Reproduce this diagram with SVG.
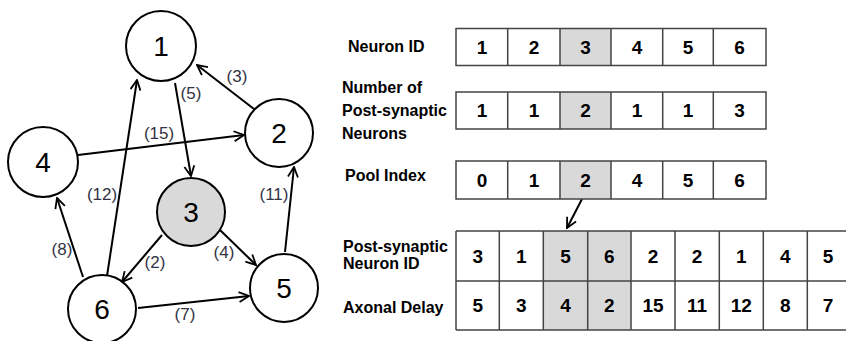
<svg xmlns="http://www.w3.org/2000/svg" width="846" height="341" viewBox="0 0 846 341">
<defs>
<marker id="arr" viewBox="0 0 12 12" refX="11" refY="6" markerWidth="12" markerHeight="12" markerUnits="userSpaceOnUse" orient="auto">
<path d="M1,1 L11,6 L1,11" fill="none" stroke="#000" stroke-width="1.8"/>
</marker>
<style>
.node{fill:#fff;stroke:#000;stroke-width:2}
.shade{fill:#d9d9d9}
.nl{font-family:"Liberation Sans",Arial,sans-serif;font-size:28px;text-anchor:middle;fill:#000}
.edge{stroke:#000;stroke-width:2;fill:none;marker-end:url(#arr)}
.el{font-family:"Liberation Sans",Arial,sans-serif;font-size:17px;fill:#333344;text-anchor:middle}
.lbl{font-family:"Liberation Sans",Arial,sans-serif;font-size:16px;font-weight:bold;fill:#000}
.num{font-family:"Liberation Sans",Arial,sans-serif;font-size:19px;font-weight:bold;fill:#000;text-anchor:middle}
.grid{stroke:#444;stroke-width:1.5;fill:none}
</style>
</defs>
<rect width="846" height="341" fill="#fff"/>

<g id="connectors">
<line class="edge" x1="254" y1="109" x2="197" y2="65"/>
<line class="edge" x1="175" y1="83" x2="191" y2="176"/>
<line class="edge" x1="78" y1="155" x2="244" y2="135"/>
<line class="edge" x1="107" y1="276" x2="137" y2="80"/>
<line class="edge" x1="83" y1="277" x2="57" y2="198"/>
<line class="edge" x1="162" y1="235" x2="122" y2="282"/>
<line class="edge" x1="220" y1="230" x2="256" y2="265"/>
<line class="edge" x1="285" y1="252" x2="294" y2="167"/>
<line class="edge" x1="138" y1="308" x2="249" y2="296"/>
<text class="el" x="237" y="82">(3)</text>
<text class="el" x="191" y="99">(5)</text>
<text class="el" x="159" y="139">(15)</text>
<text class="el" x="102" y="200">(12)</text>
<text class="el" x="62" y="255">(8)</text>
<text class="el" x="155" y="268">(2)</text>
<text class="el" x="224" y="258">(4)</text>
<text class="el" x="274" y="200">(11)</text>
<text class="el" x="185" y="320">(7)</text>
<line class="edge" x1="582" y1="199" x2="567" y2="228"/>
</g>

<g id="n1"><circle class="node" cx="161" cy="46" r="35"/><text class="nl" x="161" y="56">1</text></g>
<g id="n2"><circle class="node" cx="279" cy="133" r="34"/><text class="nl" x="279" y="143">2</text></g>
<g id="n3"><circle cx="191" cy="212" r="34" fill="#d9d9d9" stroke="#000" stroke-width="2"/><text class="nl" x="191" y="222">3</text></g>
<g id="n4"><circle class="node" cx="43" cy="162" r="35"/><text class="nl" x="43" y="172">4</text></g>
<g id="n5"><circle class="node" cx="284" cy="288" r="34"/><text class="nl" x="284" y="298">5</text></g>
<g id="n6"><circle class="node" cx="102" cy="309" r="34"/><text class="nl" x="102" y="319">6</text></g>

<g id="table-neuron-id">
<text class="lbl" x="348" y="52">Neuron ID</text>
<rect class="shade" x="560" y="28.5" width="51" height="37"/>
<rect class="grid" x="456" y="28.5" width="310" height="37"/>
<path class="grid" d="M507.7,28.5V65.5M560,28.5V65.5M611,28.5V65.5M662.7,28.5V65.5M713.3,28.5V65.5"/>
<text class="num" x="482" y="54">1</text><text class="num" x="534" y="54">2</text><text class="num" x="585.5" y="54">3</text><text class="num" x="637" y="54">4</text><text class="num" x="688" y="54">5</text><text class="num" x="739.5" y="54">6</text>
</g>

<g id="table-num-post">
<text class="lbl" x="342" y="93">Number of</text>
<text class="lbl" x="342" y="116">Post-synaptic</text>
<text class="lbl" x="342" y="139">Neurons</text>
<rect class="shade" x="560" y="92" width="51" height="37"/>
<rect class="grid" x="456" y="92" width="310" height="37"/>
<path class="grid" d="M507.7,92V129M560,92V129M611,92V129M662.7,92V129M713.3,92V129"/>
<text class="num" x="482" y="117">1</text><text class="num" x="534" y="117">1</text><text class="num" x="585.5" y="117">2</text><text class="num" x="637" y="117">1</text><text class="num" x="688" y="117">1</text><text class="num" x="739.5" y="117">3</text>
</g>

<g id="table-pool">
<text class="lbl" x="345" y="181">Pool Index</text>
<rect class="shade" x="560" y="161" width="51" height="38"/>
<rect class="grid" x="456" y="161" width="310" height="38"/>
<path class="grid" d="M507.7,161V199M560,161V199M611,161V199M662.7,161V199M713.3,161V199"/>
<text class="num" x="482" y="187">0</text><text class="num" x="534" y="187">1</text><text class="num" x="585.5" y="187">2</text><text class="num" x="637" y="187">4</text><text class="num" x="688" y="187">5</text><text class="num" x="739.5" y="187">6</text>
</g>

<g id="table-post">
<text class="lbl" x="343" y="252">Post-synaptic</text>
<text class="lbl" x="343" y="269">Neuron ID</text>
<text class="lbl" x="343" y="313">Axonal Delay</text>
<rect class="shade" x="543.3" y="231" width="87.7" height="99"/>
<path class="grid" d="M456,231H846M456,281H846M456,330H846M456,231V330M499.3,231V330M543.3,231V330M587.7,231V330M631,231V330M675,231V330M719.3,231V330M763.3,231V330M807.3,231V330"/>
<text class="num" x="477.7" y="263">3</text><text class="num" x="521.3" y="263">1</text><text class="num" x="565.5" y="263">5</text><text class="num" x="609.3" y="263">6</text><text class="num" x="653" y="263">2</text><text class="num" x="697" y="263">2</text><text class="num" x="741.3" y="263">1</text><text class="num" x="785.3" y="263">4</text><text class="num" x="828" y="263">5</text>
<text class="num" x="477.7" y="312">5</text><text class="num" x="521.3" y="312">3</text><text class="num" x="565.5" y="312">4</text><text class="num" x="609.3" y="312">2</text><text class="num" x="653" y="312">15</text><text class="num" x="697" y="312">11</text><text class="num" x="741.3" y="312">12</text><text class="num" x="785.3" y="312">8</text><text class="num" x="828" y="312">7</text>
</g>
</svg>
